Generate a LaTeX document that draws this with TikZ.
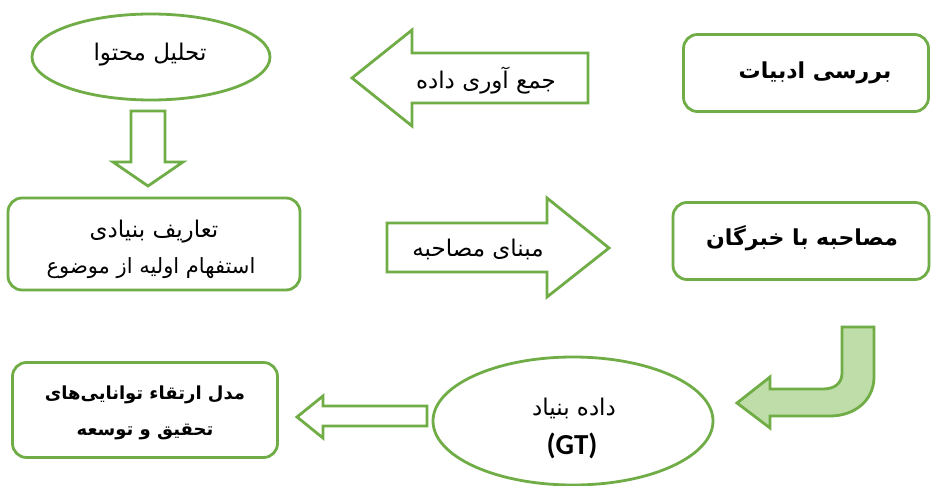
\documentclass[tikz,border=0pt]{standalone}
\usepackage{fontspec}
\TeXXeTstate=1
\newfontfamily\fa[Script=Arabic]{DejaVu Sans}
\newfontfamily\lat{Carlito}
\usetikzlibrary{shapes.geometric}
\definecolor{gline}{HTML}{70AD47}
\definecolor{gfill}{HTML}{BEDDA8}
\tikzset{
  box/.style={draw=gline, line width=2.8pt, rounded corners=14pt, fill=white},
  ell/.style={draw=gline, line width=2.8pt, ellipse, inner sep=0pt},
  blockarrow/.style={draw=gline, line width=2.8pt, line join=miter, fill=white},
  lbl/.style={font=\fa\fontsize{23}{36}\selectfont, inner sep=0pt, align=center}
}
\begin{document}
\begin{tikzpicture}[x=1pt,y=-1pt]
\useasboundingbox[fill=white] (0,0) rectangle (931,486);
% shapes
\node[ell, minimum width=238pt, minimum height=86pt] (analysis) at (151,57) {};
\node[box, minimum width=245pt, minimum height=77pt] (review) at (806,73) {};
\node[box, minimum width=292pt, minimum height=92pt] (defs) at (154,244) {};
\node[box, minimum width=256pt, minimum height=77pt] (interview) at (801,241) {};
\node[box, minimum width=265pt, minimum height=95pt] (model) at (145,410) {};
\node[ell, minimum width=280pt, minimum height=128pt] (gt) at (573,421) {};
% texts
\node[lbl] (analysis-t) at (150,55) {\beginR تحلیل محتوا\endR};
\node[lbl, font=\fa\fontsize{22}{36}\selectfont] (review-t) at (815,73) {\bfseries\beginR بررسی ادبیات\endR};
\node[lbl] (defs-t1) at (154,232) {\beginR تعاریف بنیادی\endR};
\node[lbl, font=\fa\fontsize{21}{36}\selectfont] (defs-t2) at (151,268) {\beginR استفهام اولیه از موضوع\endR};
\node[lbl, font=\fa\fontsize{22}{36}\selectfont] (interview-t) at (802,238) {\bfseries\beginR مصاحبه با خبرگان\endR};
\node[lbl, font=\fa\fontsize{18}{36}\selectfont] (model-t1) at (145,395) {\bfseries\beginR مدل ارتقاء توانایی‌های\endR};
\node[lbl, font=\fa\fontsize{18}{36}\selectfont] (model-t2) at (145,432) {\bfseries\beginR تحقیق و توسعه\endR};
\node[lbl] (gt-t1) at (574,408) {\beginR داده بنیاد\endR};
\node[lbl, font=\lat\bfseries\fontsize{29}{36}\selectfont] (gt-t2) at (572,446) {(GT)};
% arrow: collect data (left)
\draw[blockarrow] (352,78) -- (412,30) -- (412,53) -- (588,53) -- (588,103) -- (412,103) -- (412,126) -- cycle;
\node[lbl] (collect) at (486,81) {\beginR جمع آوری داده\endR};
% arrow: down from analysis to defs
\draw[blockarrow] (131,111) -- (165,111) -- (165,162) -- (183,162) -- (148,186) -- (113,162) -- (131,162) -- cycle;
% arrow: interview basis (right)
\draw[blockarrow] (387,223) -- (547,223) -- (547,198) -- (609,248) -- (547,297) -- (547,272) -- (387,272) -- cycle;
\node[lbl] (basis) at (478,249) {\beginR مبنای مصاحبه\endR};
% bent arrow from interview to GT
\draw[draw=gline, line width=2.8pt, fill=gfill, line join=miter]
  (737,403) -- (770,377) -- (770,389) -- (823,389)
  .. controls (835,389) and (842,383) .. (842,373) -- (842,327) -- (874,327) -- (874,377)
  .. controls (874,400) and (855,416) .. (830,416) -- (770,416) -- (770,428) -- cycle;
% arrow: from GT to model
\draw[blockarrow] (297,417) -- (323,396) -- (323,406) -- (427,406) -- (427,426) -- (323,426) -- (323,438) -- cycle;
\end{tikzpicture}
\end{document}
